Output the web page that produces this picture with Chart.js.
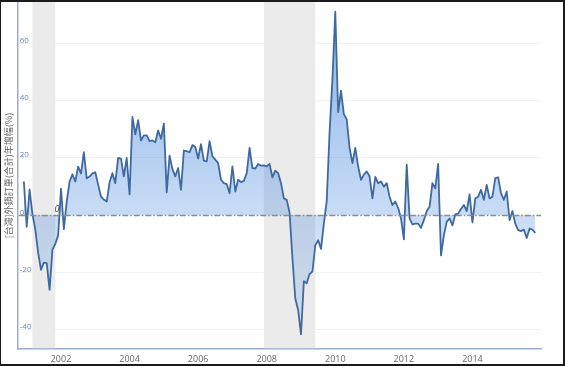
<!DOCTYPE html>
<html>
<head>
<meta charset="utf-8">
<script src="https://cdn.jsdelivr.net/npm/chart.js@4/dist/chart.umd.min.js"></script>
<style>
    html, body { margin: 0; padding: 0; background: #fff; }
    .frame {
        width: 565px;
        height: 366px;
        box-sizing: border-box;
        border: 2px solid #1b1b1b;
        border-left-width: 1px;
    }
    canvas { display: block; }
</style>
</head>
<body>
<div class="frame"><canvas id="ordersChart"></canvas></div>
<script>
// monthly series, first value = Dec 2000
const startYear = 2000;
const startMonth = 12;
const orderGrowth = [
    11.8, -4, 9, 0.5, -5, -13, -19, -16.5, -16.7, -26, -12, -10,
    -7, 9.3, -4.8, 4.8, 11.8, 14.3, 11.8, 17, 14.6, 22, 12.9, 13.5,
    14.6, 15, 10.7, 6.5, 5.5, 4.8, 11.5, 14.7, 11.2, 20, 19.8, 13.6,
    20, 7.3, 34.3, 28.2, 33.2, 26.1, 27.9, 27.9, 25.9, 26.1, 25.5, 29.6,
    26.7, 32, 8, 20.8, 16.1, 13.6, 16.5, 8.9, 22.6, 22.4, 22, 24.5,
    23.8, 19.8, 24.8, 19.1, 18.8, 25.9, 20.6, 19.4, 18.2, 12.4, 11.2, 10.9,
    7.7, 17.1, 8.3, 12.4, 11.6, 12, 14.7, 23.5, 16.5, 16.3, 17.9, 17.3,
    17.4, 17.1, 17.9, 13.2, 15.6, 14.7, 11.2, 5.9, 5.4, 1, -15, -29,
    -33, -41.5, -23, -23.7, -20.5, -19.6, -10.5, -8.7, -11.7, -3, 5, 29,
    47.5, 71, 36, 43.5, 35.3, 33.5, 23.5, 18.2, 23.5, 17.1, 12.4, 14.2,
    15.3, 13.6, 5.9, 13.4, 11.2, 11.8, 10, 11.2, 6.5, 3.6, 4.8, 2.6,
    -1.1, -8.4, 17.7, -1.1, -3.2, -2.9, -2.9, -4.4, -1.7, 1.5, 3, 11.2,
    9.4, 17.9, -14, -7, -2.3, -1.1, -3.5, 0.3, 0.6, 2.2, 3.6, 1.5,
    7.3, -2.5, 5.9, 6.5, 8.9, 5.4, 10.6, 5.9, 6.5, 13, 13.2, 7.7,
    5.4, 8.3, -1.7, 1.5, -2.9, -5.2, -5.5, -5, -7.9, -4.6, -5, -6.1
];
const yearTicks = [2002, 2004, 2006, 2008, 2010, 2012, 2014];
const valueTicks = [-40, -20, 0, 20, 40, 60];
// shaded periods (US recessions), as fractional years
const recessionStart = [2001 + 2 / 12, 2007 + 11 / 12];
const recessionEnd = [2001 + 10 / 12, 2009 + 5 / 12];
const zeroMarkYear = 2001.88;

const monthX = orderGrowth.map((_, i) => startYear + (startMonth - 1 + i) / 12);

const backdrop = {
    id: 'backdrop',
    beforeDatasetsDraw(chart) {
        const { ctx, chartArea, scales: { x } } = chart;
        ctx.save();
        ctx.fillStyle = '#ebebeb';
        recessionStart.forEach((s, k) => {
            const x0 = x.getPixelForValue(s);
            const x1 = x.getPixelForValue(recessionEnd[k]);
            ctx.fillRect(x0, chartArea.top, x1 - x0, chartArea.bottom - chartArea.top - 1);
        });
        ctx.restore();
    },
    afterDatasetsDraw(chart) {
        const { ctx, chartArea, scales: { x, y } } = chart;
        const y0 = Math.round(y.getPixelForValue(0)) + 0.5;
        ctx.save();
        ctx.strokeStyle = '#8c8c8c';
        ctx.lineWidth = 1.5;
        ctx.setLineDash([6, 2, 1.5, 2]);
        ctx.beginPath();
        ctx.moveTo(chartArea.left + 1, y0);
        ctx.lineTo(chartArea.right, y0);
        ctx.stroke();
        ctx.setLineDash([]);
        ctx.fillStyle = '#444';
        ctx.font = 'italic 9px "Open Sans"';
        ctx.textAlign = 'center';
        ctx.textBaseline = 'middle';
        ctx.fillText('0', x.getPixelForValue(zeroMarkYear), y0 - 6);
        ctx.restore();
    }
};

const ctx = document.getElementById('ordersChart').getContext('2d');
new Chart(ctx, {
    type: 'line',
    data: {
        datasets: [{
            data: orderGrowth.map((v, i) => ({ x: monthX[i], y: v })),
            borderColor: '#40699f',
            borderWidth: 1.8,
            borderJoinStyle: 'round',
            pointRadius: 0,
            tension: 0,
            fill: 'origin',
            backgroundColor(context) {
                const { chart } = context;
                const area = chart.chartArea;
                if (!area) return 'rgba(60,130,220,0.3)';
                const zy = chart.scales.y.getPixelForValue(0);
                const f = Math.min(1, Math.max(0, (zy - area.top) / (area.bottom - area.top)));
                const g = chart.ctx.createLinearGradient(0, area.top, 0, area.bottom);
                g.addColorStop(0, 'rgba(60,130,220,0.62)');
                g.addColorStop(f, 'rgba(60,130,220,0.28)');
                g.addColorStop(1, 'rgba(60,130,220,0.12)');
                return g;
            }
        }]
    },
    options: {
        responsive: true,
        maintainAspectRatio: false,
        animation: false,
        layout: { padding: { left: 0, right: 22, top: 0, bottom: -6 } },
        plugins: {
            legend: { display: false },
            tooltip: { enabled: false }
        },
        scales: {
            x: {
                type: 'linear',
                min: 2000.74,
                max: 2016.0,
                afterBuildTicks: s => { s.ticks = yearTicks.map(v => ({ value: v })); },
                grid: { display: false, drawTicks: false },
                border: { display: true, color: '#9aaed2', width: 1.5 },
                ticks: {
                    padding: 5,
                    color: '#666',
                    font: { family: '"Open Sans"', size: 9 },
                    callback: v => String(v)
                }
            },
            y: {
                min: -46.7,
                max: 74.4,
                afterBuildTicks: s => { s.ticks = valueTicks.map(v => ({ value: v })); },
                afterFit: s => { s.paddingTop = 0; s.paddingBottom = 0; },
                grid: {
                    drawTicks: false,
                    color: c => (c.tick && c.tick.value === 0 ? 'rgba(0,0,0,0)' : '#f1f1f1'),
                    lineWidth: 1
                },
                border: { color: '#9aaed2', width: 1.5 },
                ticks: {
                    mirror: true,
                    padding: 2,
                    labelOffset: -3,
                    color: '#6d86b3',
                    font: { family: '"Open Sans"', size: 8 }
                },
                title: {
                    display: true,
                    text: '[台灣]外銷訂單(合計)年增幅(%)',
                    color: '#666',
                    font: { family: '"Noto Sans CJK TC", sans-serif', size: 9 },
                    padding: { top: 2, bottom: 0 }
                }
            }
        }
    },
    plugins: [backdrop]
});
</script>
</body>
</html>
